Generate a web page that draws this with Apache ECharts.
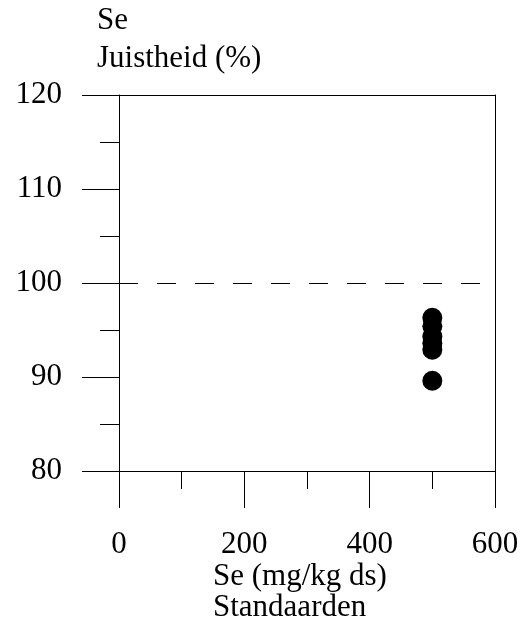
<!DOCTYPE html>
<html>
<head>
<meta charset="utf-8">
<script src="https://cdn.jsdelivr.net/npm/echarts@6/dist/echarts.min.js"></script>
<style>
  html, body { margin: 0; padding: 0; background: #fff; }
  #chart { width: 524px; height: 632px; }
</style>
</head>
<body>
<div id="chart"></div>
<script>
// Se accuracy measurements on the standards
const standardConc = [500, 500, 500, 500, 500, 500];          // Se (mg/kg ds)
const accuracyPct  = [96.3, 95.4, 94.3, 93.6, 92.9, 89.6];    // Juistheid (%)
const referenceLevel = 100;

const xTicks = { min: 0, max: 600, step: 200 };
const yTicks = { min: 80, max: 120, step: 10 };

const FONT = '"Liberation Serif", "Times New Roman", serif';
const FS = 31;

const chart = echarts.init(document.getElementById('chart'));

const points = standardConc.map((x, i) => [x, accuracyPct[i]]);

const lineStyle = { color: '#000', width: 1 };

chart.setOption({
  animation: false,
  backgroundColor: '#fff',
  grid: { left: 119, top: 95, width: 376, height: 376, containLabel: false },
  xAxis: [
    {
      type: 'value',
      position: 'bottom',
      min: xTicks.min, max: xTicks.max, interval: xTicks.step,
      axisLine: { show: true, onZero: false, lineStyle },
      axisTick: { show: true, inside: false, length: 37, lineStyle },
      minorTick: { show: true, splitNumber: 2, length: 18, lineStyle },
      splitLine: { show: false },
      axisLabel: { color: '#000', fontFamily: FONT, fontSize: FS, margin: 58 }
    },
    {
      type: 'value',
      position: 'top',
      min: xTicks.min, max: xTicks.max,
      axisLine: { show: true, onZero: false, lineStyle },
      axisTick: { show: false },
      splitLine: { show: false },
      axisLabel: { show: false }
    }
  ],
  yAxis: [
    {
      type: 'value',
      position: 'left',
      min: yTicks.min, max: yTicks.max, interval: yTicks.step,
      axisLine: { show: true, onZero: false, lineStyle },
      axisTick: { show: true, inside: false, length: 37, lineStyle },
      minorTick: { show: true, splitNumber: 2, length: 19, lineStyle },
      splitLine: { show: false },
      axisLabel: { color: '#000', fontFamily: FONT, fontSize: FS, margin: 57 }
    },
    {
      type: 'value',
      position: 'right',
      min: yTicks.min, max: yTicks.max,
      axisLine: { show: true, onZero: false, lineStyle },
      axisTick: { show: false },
      splitLine: { show: false },
      axisLabel: { show: false }
    }
  ],
  series: [
    {
      type: 'scatter',
      xAxisIndex: 0,
      yAxisIndex: 0,
      data: points,
      symbol: 'circle',
      symbolSize: 20,
      itemStyle: { color: '#000', opacity: 1 },
      markLine: {
        silent: true,
        symbol: 'none',
        label: { show: false },
        lineStyle: { color: '#000', width: 1, type: [19, 19], opacity: 1 },
        data: [{ yAxis: referenceLevel }]
      }
    }
  ],
  graphic: [
    { type: 'text', left: 97, top: 20.5 - FS / 2,
      style: { text: 'Se', font: `${FS}px ${FONT}`, fill: '#000' } },
    { type: 'text', left: 97, top: 58.5 - FS / 2,
      style: { text: 'Juistheid (%)', font: `${FS}px ${FONT}`, fill: '#000' } },
    { type: 'text', x: 213, y: 576.5,
      style: { text: 'Se (mg/kg ds)', font: `${FS}px ${FONT}`, fill: '#000', align: 'left', verticalAlign: 'middle' } },
    { type: 'text', x: 213, y: 607.5,
      style: { text: 'Standaarden', font: `${FS}px ${FONT}`, fill: '#000', align: 'left', verticalAlign: 'middle' } }
  ]
});
</script>
</body>
</html>
